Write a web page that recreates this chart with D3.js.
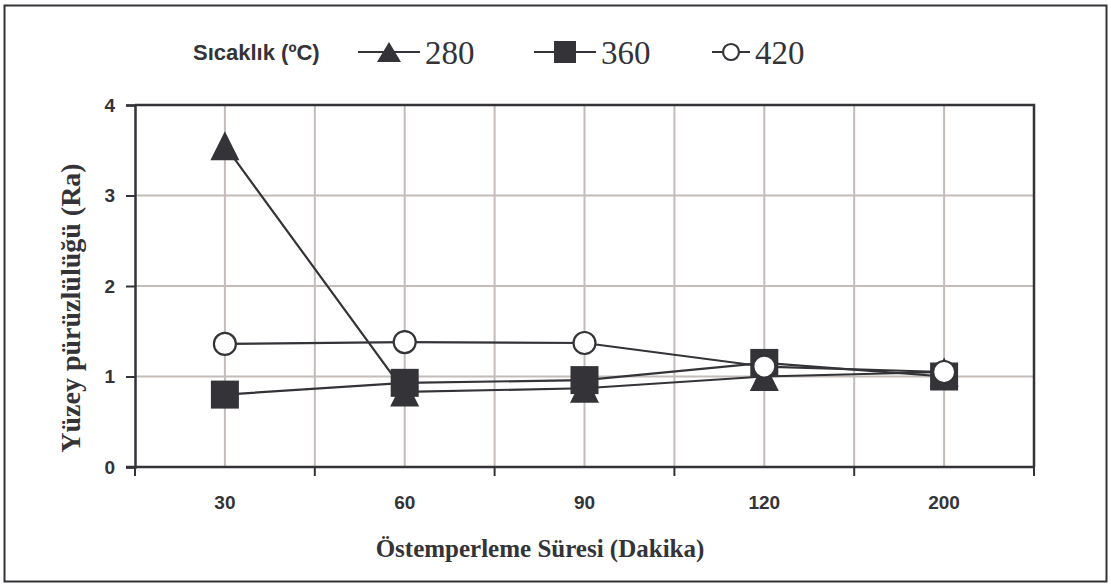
<!DOCTYPE html>
<html>
<head>
<meta charset="utf-8">
<script src="https://cdn.jsdelivr.net/npm/d3@7"></script>
<style>
  html, body { margin: 0; padding: 0; background: #fff; }
  svg { display: block; }
</style>
</head>
<body>
<svg id="chart" width="1111" height="586"></svg>
<script>
// Austempering time categories (minutes)
const durations = ["30", "60", "90", "120", "200"];
// Surface roughness (Ra) per austempering temperature
const ra280 = [3.55, 0.83, 0.87, 1.00, 1.05];
const ra360 = [0.80, 0.93, 0.96, 1.15, 1.00];
const ra420 = [1.36, 1.38, 1.37, 1.11, 1.05];
const yTicks = [0, 1, 2, 3, 4];
const seriesNames = ["280", "360", "420"];

const ink = "#333338";
const gridColor = "#c4bcb8";
const sans = "Liberation Sans, Arial, sans-serif";
const serif = "Liberation Serif, Times New Roman, serif";

const svg = d3.select("#chart");
const plot = { left: 135, right: 1034, top: 105, bottom: 467 };

// outer frame
svg.append("rect")
  .attr("x", 4.5).attr("y", 5.5).attr("width", 1102).attr("height", 576)
  .attr("fill", "none").attr("stroke", ink).attr("stroke-width", 2);

const x = d3.scaleBand().domain(durations).range([plot.left, plot.right]).padding(0);
const cx = d => x(d) + x.bandwidth() / 2;
const y = d3.scaleLinear().domain([0, 4]).range([plot.bottom, plot.top]);

// gridlines: verticals at category centres and boundaries
const g = svg.append("g");
const vLines = [];
durations.forEach((d, i) => {
  vLines.push(cx(d));
  if (i > 0) vLines.push(x(d));
});
g.selectAll("line.v").data(vLines).join("line")
  .attr("x1", d => d).attr("x2", d => d)
  .attr("y1", plot.top).attr("y2", plot.bottom)
  .attr("stroke", gridColor).attr("stroke-width", 2);
g.selectAll("line.h").data(yTicks.filter(t => t > 0 && t < 4)).join("line")
  .attr("x1", plot.left).attr("x2", plot.right)
  .attr("y1", d => y(d)).attr("y2", d => y(d))
  .attr("stroke", gridColor).attr("stroke-width", 2);

// plot border (top and right)
svg.append("path")
  .attr("d", `M${plot.left},${plot.top}H${plot.right}V${plot.bottom}`)
  .attr("fill", "none").attr("stroke", ink).attr("stroke-width", 2.5);

// y axis
const yAxis = svg.append("g").attr("transform", `translate(${plot.left},0)`)
  .call(d3.axisLeft(y).tickValues(yTicks).tickSize(9).tickPadding(11).tickFormat(d3.format("d")));
yAxis.select(".domain").attr("stroke", ink).attr("stroke-width", 2.5);
yAxis.selectAll(".tick line").attr("stroke", ink).attr("stroke-width", 2);
yAxis.selectAll(".tick text")
  .attr("font-family", sans)
  .attr("font-weight", "bold").attr("font-size", 19).attr("fill", ink);

// x axis: ticks on category boundaries, labels at centres
const xBounds = durations.map(d => x(d)).concat([plot.right]);
const xAxisG = svg.append("g");
xAxisG.append("line")
  .attr("x1", plot.left - 9).attr("x2", plot.right)
  .attr("y1", plot.bottom).attr("y2", plot.bottom)
  .attr("stroke", ink).attr("stroke-width", 2.5);
xAxisG.selectAll("line.tk").data(xBounds).join("line")
  .attr("x1", d => d).attr("x2", d => d)
  .attr("y1", plot.bottom).attr("y2", plot.bottom + 9)
  .attr("stroke", ink).attr("stroke-width", 2);
xAxisG.selectAll("text").data(durations).join("text")
  .attr("x", d => cx(d)).attr("y", 502)
  .attr("text-anchor", "middle").attr("dominant-baseline", "central")
  .attr("font-family", sans)
  .attr("font-weight", "bold").attr("font-size", 19).attr("fill", ink)
  .text(d => d);

// axis titles
svg.append("text")
  .attr("x", 540).attr("y", 548)
  .attr("text-anchor", "middle").attr("dominant-baseline", "central")
  .attr("font-family", serif)
  .attr("font-weight", "bold").attr("font-size", 25).attr("fill", ink)
  .text("Östemperleme Süresi (Dakika)");
svg.append("text")
  .attr("transform", `translate(70,${(plot.top + plot.bottom) / 2 + 22}) rotate(-90)`)
  .attr("text-anchor", "middle").attr("dominant-baseline", "central")
  .attr("font-family", serif)
  .attr("font-weight", "bold").attr("font-size", 28).attr("fill", ink)
  .text("Yüzey pürüzlülüğü (Ra)");

// series
const lineGen = d3.line().x((v, i) => cx(durations[i])).y(v => y(v));
const series = [
  { name: seriesNames[0], values: ra280, shape: "triangle" },
  { name: seriesNames[1], values: ra360, shape: "square" },
  { name: seriesNames[2], values: ra420, shape: "circle" }
];

function drawMarker(sel, shape, w, h) {
  if (shape === "triangle") {
    sel.append("path")
      .attr("d", `M0,${-h / 2}L${w / 2},${h / 2}L${-w / 2},${h / 2}Z`)
      .attr("fill", ink);
  } else if (shape === "square") {
    sel.append("rect")
      .attr("x", -w / 2).attr("y", -h / 2)
      .attr("width", w).attr("height", h)
      .attr("fill", ink);
  } else {
    sel.append("circle").attr("r", w / 2)
      .attr("fill", "#fff").attr("stroke", ink).attr("stroke-width", 2.2);
  }
}

series.forEach(s => {
  svg.append("path").datum(s.values)
    .attr("d", lineGen).attr("fill", "none")
    .attr("stroke", ink).attr("stroke-width", 2.2);
});
const markerSize = { triangle: [29, 29], square: [28, 28], circle: [22, 22] };
series.forEach(s => {
  s.values.forEach((v, i) => {
    const m = svg.append("g").attr("transform", `translate(${cx(durations[i])},${y(v)})`);
    drawMarker(m, s.shape, ...markerSize[s.shape]);
  });
});

// legend
const legendY = 52;
svg.append("text")
  .attr("x", 193).attr("y", legendY)
  .attr("dominant-baseline", "central")
  .attr("font-family", sans)
  .attr("font-weight", "bold").attr("font-size", 22).attr("fill", ink)
  .text("Sıcaklık (ºC)");
const legendItems = [
  { name: seriesNames[0], shape: "triangle", cx: 389, half: 31, w: 24, h: 20 },
  { name: seriesNames[1], shape: "square", cx: 565, half: 31, w: 22, h: 22 },
  { name: seriesNames[2], shape: "circle", cx: 731, half: 19, w: 16, h: 16 }
];
legendItems.forEach(it => {
  svg.append("line")
    .attr("x1", it.cx - it.half).attr("x2", it.cx + it.half)
    .attr("y1", legendY).attr("y2", legendY)
    .attr("stroke", ink).attr("stroke-width", 2.2);
  const m = svg.append("g").attr("transform", `translate(${it.cx},${legendY})`);
  drawMarker(m, it.shape, it.w, it.h);
  svg.append("text")
    .attr("x", it.cx + it.half + 5).attr("y", legendY + 1)
    .attr("dominant-baseline", "central")
    .attr("font-family", serif)
    .attr("font-size", 33).attr("fill", ink)
    .text(it.name);
});
</script>
</body>
</html>
